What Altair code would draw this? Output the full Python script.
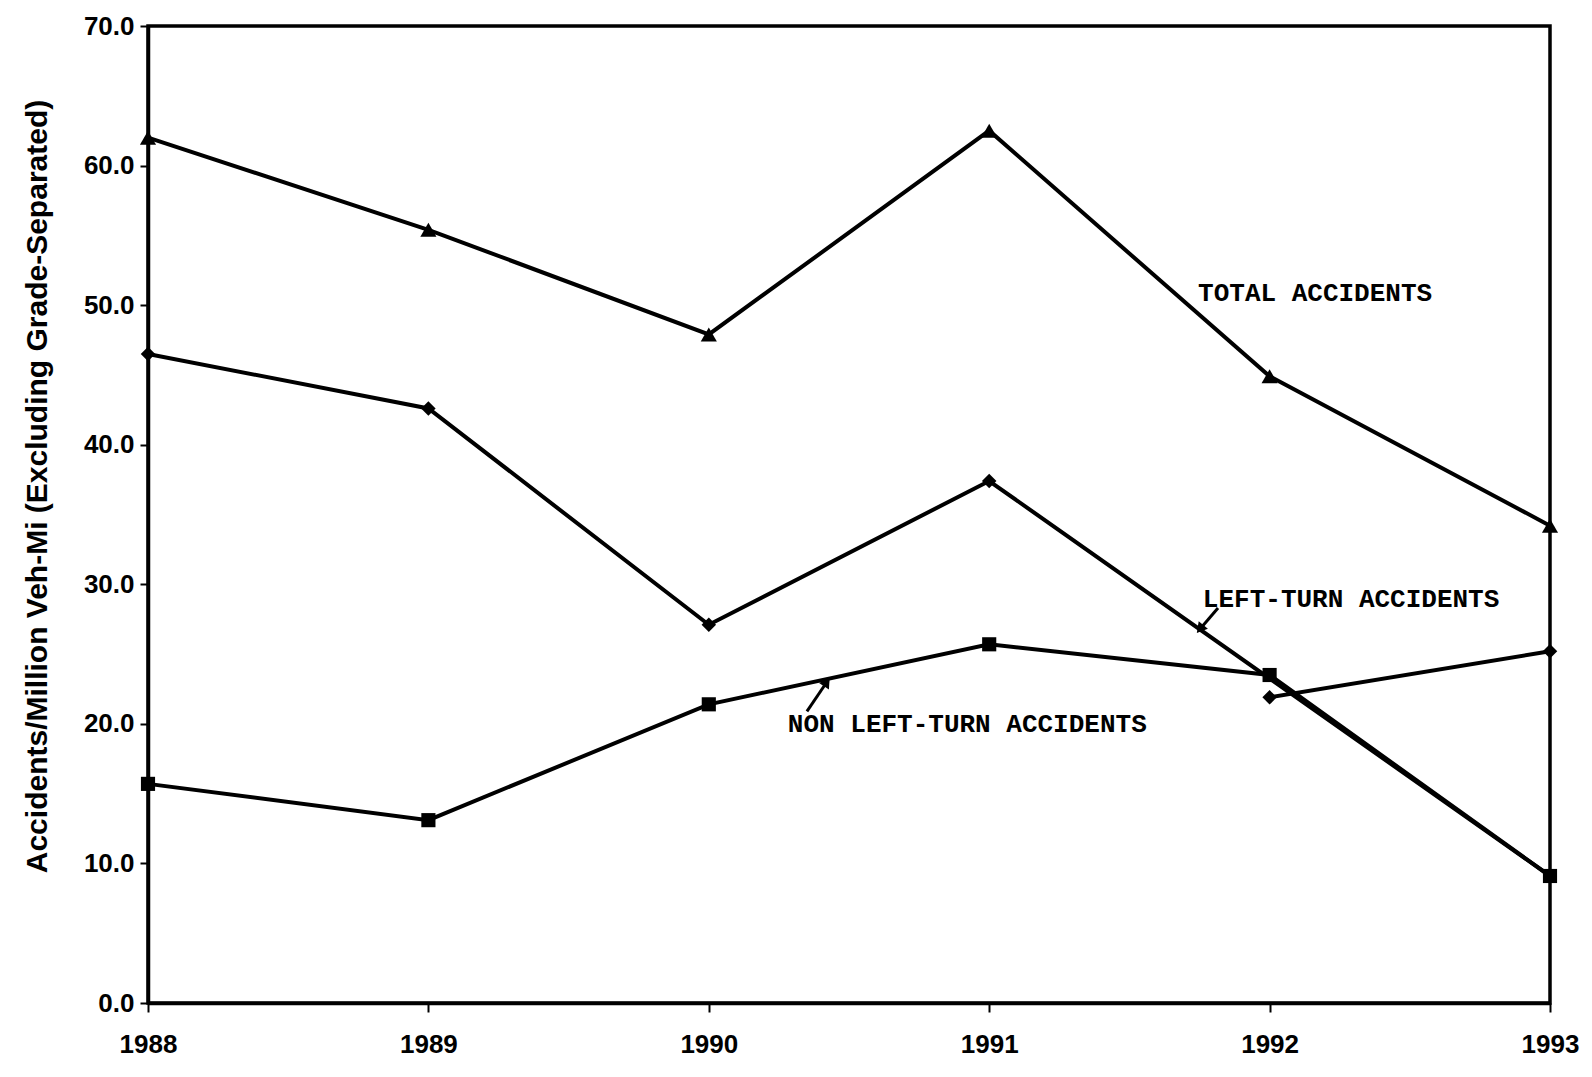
import altair as alt
import pandas as pd

years = [1988, 1989, 1990, 1991, 1992, 1993]
total = [62.0, 55.4, 47.9, 62.5, 44.9, 34.2]
left_turn = [46.5, 42.6, 27.1, 37.4, 21.9, 25.2]
non_left_turn = [15.7, 13.1, 21.4, 25.7, 23.5, 9.1]

y_ticks = [0, 10, 20, 30, 40, 50, 60, 70]
y_title = "Accidents/Million Veh-Mi (Excluding Grade-Separated)"

label_text = ["TOTAL ACCIDENTS", "LEFT-TURN ACCIDENTS", "NON LEFT-TURN ACCIDENTS"]
label_x = [1991.745, 1991.762, 1990.282]
label_y = [50.3, 28.35, 19.45]

arrow_tail_x = [1991.816, 1990.350]
arrow_tail_y = [28.3, 20.9]
arrow_head_x = [1991.752, 1990.421]
arrow_head_y = [26.8, 23.0]
arrow_angle = [219, 34]

# line paths as drawn in the figure
paths = [
    ("total", years, total),
    ("left", years[:4] + [years[5]], left_turn[:4] + [non_left_turn[5]]),
    ("non", years, non_left_turn),
    ("left_end", years[4:], left_turn[4:]),
]
lrows = []
for name, ys, vs in paths:
    for i, (yr, v) in enumerate(zip(ys, vs)):
        lrows.append({"path": name, "year": yr, "value": v, "order": i})
lines_df = pd.DataFrame(lrows)

labels_df = pd.DataFrame({"text": label_text, "x": label_x, "y": label_y})
arrows_df = pd.DataFrame({"x": arrow_tail_x, "y": arrow_tail_y,
                          "x2": arrow_head_x, "y2": arrow_head_y,
                          "angle": arrow_angle})

xscale = alt.Scale(domain=[1988, 1993], nice=False, zero=False)
yscale = alt.Scale(domain=[0, 70], nice=False)

xaxis = alt.Axis(values=years, format="d", title=None, grid=False, labelFlush=False,
                 labelFont="Liberation Sans", labelFontWeight="bold", labelFontSize=26,
                 labelColor="black", tickColor="black", tickSize=9, tickWidth=2,
                 domainColor="black", domainWidth=3.5, labelPadding=19)
yaxis = alt.Axis(values=y_ticks, format=".1f", title=y_title, grid=False, labelFlush=False,
                 labelFont="Liberation Sans", labelFontWeight="bold", labelFontSize=26,
                 labelColor="black", tickColor="black", tickSize=8, tickWidth=2,
                 domainColor="black", domainWidth=3.5, labelPadding=6,
                 titleFont="Liberation Sans", titleFontWeight="bold", titleFontSize=30,
                 titleColor="black", titleX=-111, titleY=460, titleAngle=-90,
                 titleAlign="center", titleBaseline="middle")

line_layer = alt.Chart(lines_df).mark_line(color="black", strokeWidth=4).encode(
    x=alt.X("year:Q", scale=xscale, axis=xaxis),
    y=alt.Y("value:Q", scale=yscale, axis=yaxis),
    detail="path:N",
    order="order:Q",
)

def marker_layer(vals, shape, size):
    df = pd.DataFrame({"year": years, "value": vals})
    return alt.Chart(df).mark_point(filled=True, color="black", opacity=1,
                                    shape=shape, size=size, strokeWidth=0).encode(
        x=alt.X("year:Q", scale=xscale),
        y=alt.Y("value:Q", scale=yscale),
    )

tri_layer = marker_layer(total, "triangle-up", 260)
dia_layer = marker_layer(left_turn, "diamond", 210)
sq_layer = marker_layer(non_left_turn, "square", 200)

text_layer = alt.Chart(labels_df).mark_text(
    font="Liberation Mono", fontWeight="bold", fontSize=26, color="black",
    align="left", baseline="alphabetic"
).encode(
    x=alt.X("x:Q", scale=xscale),
    y=alt.Y("y:Q", scale=yscale),
    text="text:N",
)

arrow_rule = alt.Chart(arrows_df).mark_rule(color="black", strokeWidth=3).encode(
    x=alt.X("x:Q", scale=xscale),
    y=alt.Y("y:Q", scale=yscale),
    x2="x2:Q",
    y2="y2:Q",
)

arrow_head = alt.Chart(arrows_df).mark_point(filled=True, color="black", opacity=1,
                                             shape="triangle-up", size=140,
                                             strokeWidth=0).encode(
    x=alt.X("x2:Q", scale=xscale),
    y=alt.Y("y2:Q", scale=yscale),
    angle=alt.Angle("angle:Q", scale=None),
)

chart = alt.layer(line_layer, tri_layer, dia_layer, sq_layer, text_layer,
                  arrow_rule, arrow_head).properties(
    width=1402, height=977,
    padding={"left": 140, "top": 18, "right": 30, "bottom": 60},
    autosize=alt.AutoSizeParams(type="none"),
    background="white",
).configure_view(stroke="black", strokeWidth=3.5)

chart.save("out.html", embed_options={"renderer": "svg", "actions": False})
